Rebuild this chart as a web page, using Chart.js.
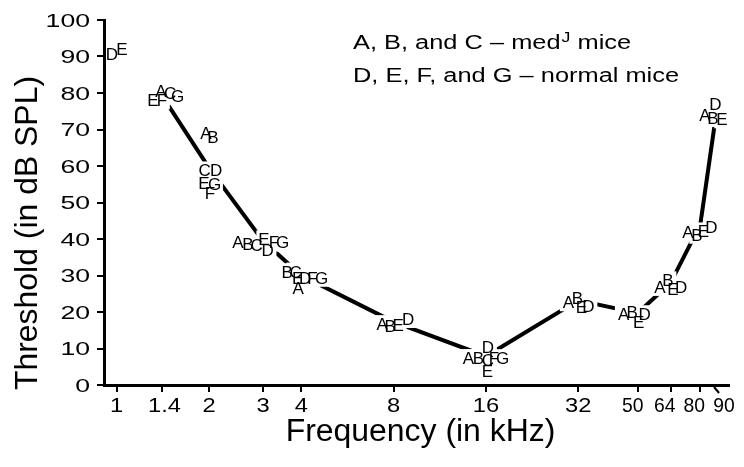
<!DOCTYPE html>
<html>
<head>
<meta charset="utf-8">
<script src="https://cdn.jsdelivr.net/npm/chart.js@4.4.1/dist/chart.umd.min.js"></script>
<style>
html,body{margin:0;padding:0;background:#ffffff;}
#wrap{width:744px;height:467px;position:relative;}
</style>
</head>
<body>
<div id="wrap"><canvas id="c" width="744" height="467"></canvas></div>
<script>
// ---------------- DATA ----------------
const frequencies   = [1, 1.4, 2, 3, 4, 8, 16, 32, 50, 64, 80, 90];   // kHz
const xTickLabels   = ['1', '1.4', '2', '3', '4', '8', '16', '32', '50', '64', '80', '90'];
const yTickValues   = [0, 10, 20, 30, 40, 50, 60, 70, 80, 90, 100];
const meanThreshold = [null, 79.5, 59.5, 39.5, 30, 17.3, 7.9, 23.2, 19.7, 28, 44, 74];
// individual animals (threshold in dB SPL) - A, B, C: medJ ; D, E, F, G: normal
const mouseA = [null, 80.7, 69.2, 39.1, 26.7, 16.7, 7.4, 22.7, 19.4, 26.9, 42.0, 74.1];
const mouseB = [null, null, 68.1, 38.6, 30.9, 16.3, 7.4, 23.9, 20.0, 28.7, 41.2, 73.2];
const mouseC = [null, 80.0, 58.8, 38.3, 31.1, null, 7.0, null, null, null, null, null];
const mouseD = [90.7, null, 58.8, 37.1, 29.4, 18.1, 10.3, 21.6, 19.4, 26.9, 43.4, 76.9];
const mouseE = [92.2, 78.0, 55.3, 39.9, 29.3, 16.4, 3.8, 21.5, 17.2, 26.4, 42.1, 72.8];
const mouseF = [null, 78.0, 52.5, 39.1, 29.4, null, 7.3, null, null, null, null, null];
const mouseG = [null, 79.3, 55.0, 39.1, 29.4, null, 7.3, null, null, null, null, null];
const mice = {A: mouseA, B: mouseB, C: mouseC, D: mouseD, E: mouseE, F: mouseF, G: mouseG};

// ---------------- STYLE / LAYOUT ----------------
const FONT = '"Liberation Sans", Arial, Helvetica, sans-serif';
// horizontal pixel nudges of the letter labels (per frequency index), to spread overlapping letters
const letterNudge = {
  A: [0, -0.5, -3, -25, -3.3, -11.6, -17.5, -9.8, -14.2, -10.6, -12.4, -11.1],
  B: [0, 0, 4, -15, -14.3, -3.6, -7.5, -0.8, -5.7, -2.6, -3.4, -3.1],
  C: [0, 8.5, -4.5, -6.5, -5.8, 0, 2, 0, 0, 0, 0, 0],
  D: [-4.7, 0, 7, 4.5, 3.7, 14.4, 2, 10.2, 6.8, 10.4, 11.1, -0.6],
  E: [5.3, -8.5, -5, 1, -3.8, 4.4, 1.5, 3.2, 0.8, 2.4, 3.1, 5.9],
  F: [0, 0.5, 1, 11, 11.2, 0, 8, 0, 0, 0, 0, 0],
  G: [0, 16, 5.5, 19.5, 20.2, 0, 16.5, 0, 0, 0, 0, 0]
};
const xLabelNudge = {1.4: 3, 50: -5, 64: -6, 80: -6, 90: 8};
const xLabelStretch = {50: 0.92, 64: 0.92, 80: 0.92, 90: 0.92};

// ---------------- DATASETS ----------------
const datasets = [{
  type: 'line',
  label: 'mean',
  data: frequencies.map((f, i) => ({x: f, y: meanThreshold[i]})).filter(p => p.y !== null),
  borderColor: '#000',
  borderWidth: 4,
  borderCapStyle: 'butt',
  pointRadius: 0,
  tension: 0,
  fill: false
}];
Object.keys(mice).forEach(k => {
  datasets.push({
    type: 'scatter',
    label: k,
    letter: k,
    data: frequencies.map((f, i) => ({x: f, y: mice[k][i], i: i})).filter(p => p.y !== null),
    pointRadius: 0,
    showLine: false
  });
});

function sText(ctx, text, x, y, sx, align) {
  ctx.save();
  ctx.translate(x, y);
  ctx.scale(sx, 1);
  ctx.textAlign = align;
  ctx.textBaseline = 'alphabetic';
  ctx.fillText(text, 0, 0);
  ctx.restore();
}

const letterPlugin = {
  id: 'letters',
  afterDatasetsDraw(chart) {
    const ctx = chart.ctx;
    const area = chart.chartArea;
    const size = 17;
    const capH = size * 0.716;
    const items = [];
    chart.data.datasets.forEach((ds, di) => {
      if (!ds.letter) return;
      const meta = chart.getDatasetMeta(di);
      meta.data.forEach((el, j) => {
        const raw = ds.data[j];
        items.push({ch: ds.letter, x: el.x + letterNudge[ds.letter][raw.i], y: el.y + capH / 2});
      });
    });
    ctx.save();
    ctx.font = size + 'px ' + FONT;
    ctx.textAlign = 'center';
    ctx.textBaseline = 'alphabetic';
    // white boxes to open gaps in the line around letters
    ctx.beginPath();
    ctx.rect(area.left + 2, area.top, area.right - area.left - 2, area.bottom - area.top - 2);
    ctx.clip();
    ctx.fillStyle = '#fff';
    const pad = 3;
    items.forEach(it => {
      const m = ctx.measureText(it.ch);
      ctx.fillRect(it.x - m.actualBoundingBoxLeft - pad, it.y - m.actualBoundingBoxAscent - pad,
        m.actualBoundingBoxLeft + m.actualBoundingBoxRight + 2 * pad,
        m.actualBoundingBoxAscent + m.actualBoundingBoxDescent + 2 * pad);
    });
    ctx.restore();
    ctx.save();
    ctx.font = size + 'px ' + FONT;
    ctx.textAlign = 'center';
    ctx.textBaseline = 'alphabetic';
    ctx.fillStyle = '#000';
    items.forEach(it => ctx.fillText(it.ch, it.x, it.y));
    ctx.restore();
  },
  afterDraw(chart) {
    const ctx = chart.ctx;
    const xs = chart.scales.x, ys = chart.scales.y;
    ctx.save();
    ctx.fillStyle = '#000';
    // y tick labels
    ctx.font = '19px ' + FONT;
    yTickValues.forEach(v => {
      const y = ys.getPixelForValue(v);
      sText(ctx, String(v), 90, y + 19 * 0.716 / 2, 1.4, 'right');
    });
    // x tick labels
    ctx.font = '21px ' + FONT;
    frequencies.forEach((f, i) => {
      const x = xs.getPixelForValue(f) + (xLabelNudge[f] || 0);
      sText(ctx, xTickLabels[i], x, 412, xLabelStretch[f] || 1.13, 'center');
    });
    // axis break mark at 90
    const x90 = xs.getPixelForValue(90);
    ctx.strokeStyle = '#000';
    ctx.lineWidth = 2;
    ctx.beginPath();
    ctx.moveTo(x90 - 2, 387);
    ctx.lineTo(x90 + 3, 393);
    ctx.stroke();
    // axis titles
    ctx.font = '31px ' + FONT;
    sText(ctx, 'Frequency (in kHz)', (chart.chartArea.left + chart.chartArea.right) / 2 + 4, 441, 1.03, 'center');
    ctx.save();
    ctx.translate(37, 233);
    ctx.rotate(-Math.PI / 2);
    sText(ctx, 'Threshold (in dB SPL)', 0, 0, 1.03, 'center');
    ctx.restore();
    // legend text
    ctx.font = '20px ' + FONT;
    const s = 1.27;
    let x = 353;
    const t1 = 'A, B, and C \u2013 med';
    sText(ctx, t1, x, 49, s, 'left');
    x += ctx.measureText(t1).width * s + 1;
    ctx.font = '14px ' + FONT;
    sText(ctx, 'J', x, 42, s, 'left');
    x += ctx.measureText('J').width * s;
    ctx.font = '20px ' + FONT;
    sText(ctx, ' mice', x, 49, s, 'left');
    sText(ctx, 'D, E, F, and G \u2013 normal mice', 353, 81.5, s, 'left');
    ctx.restore();
  }
};

new Chart(document.getElementById('c'), {
  type: 'scatter',
  data: {datasets: datasets},
  options: {
    responsive: false,
    animation: false,
    layout: {padding: {left: 97, right: 15, top: 20, bottom: 75}},
    plugins: {legend: {display: false}, tooltip: {enabled: false}},
    scales: {
      x: {
        type: 'logarithmic',
        min: 0.909,
        max: 99.2,
        afterBuildTicks: (scale) => { scale.ticks = frequencies.map(v => ({value: v})); },
        ticks: {display: false},
        grid: {
          drawOnChartArea: false, drawTicks: true, tickLength: 7, lineWidth: 2,
          color: (c) => (c.tick && c.tick.value === 90) ? 'rgba(0,0,0,0)' : '#000'
        },
        border: {display: true, color: '#000', width: 3}
      },
      y: {
        type: 'linear',
        min: 0,
        max: 100,
        afterBuildTicks: (scale) => { scale.ticks = yTickValues.map(v => ({value: v})); },
        ticks: {display: false},
        grid: {drawOnChartArea: false, drawTicks: true, tickLength: 7, lineWidth: 2, color: '#000'},
        border: {display: true, color: '#000', width: 3}
      }
    }
  },
  plugins: [letterPlugin]
});
</script>
</body>
</html>
